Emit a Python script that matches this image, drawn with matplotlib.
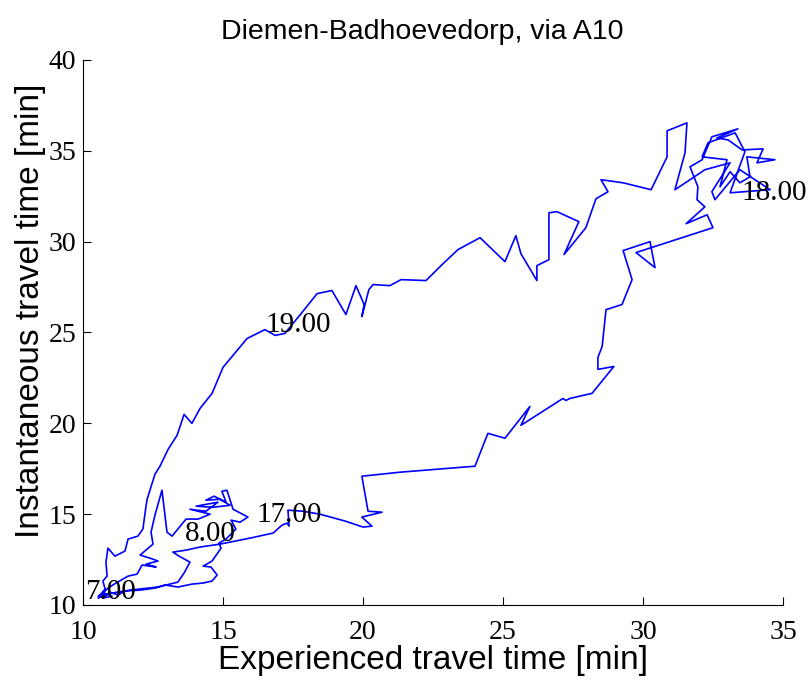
import matplotlib
matplotlib.use('Agg')
import matplotlib.pyplot as plt

# ervaren reistijd (x) en instantane reistijd (y), in minuten, 7.00 - 19.00
experienced = [10.61, 10.82, 10.54, 10.75, 11.04, 10.71, 10.96, 11.25, 11.50, 12.04,
               12.57, 12.93, 13.39, 13.89, 14.29, 14.61, 14.79, 14.57, 14.29, 14.61,
               14.93, 14.86, 15.11, 15.46, 15.29, 15.61, 15.89, 15.36, 15.14, 14.96,
               15.11, 14.68, 14.39, 14.89, 15.25, 14.64, 14.04, 14.82, 14.39, 13.82,
               14.54, 14.11, 13.68, 13.18, 13.00, 12.82, 12.57, 12.43, 12.50, 12.04,
               12.39, 12.68, 12.25, 12.61, 12.11, 11.93, 11.61, 11.18, 10.89, 10.68,
               10.54, 10.71, 10.89, 10.61, 11.04, 11.68, 12.68, 13.39, 13.61, 13.82,
               13.43, 13.21, 13.68, 14.18, 14.89, 15.96, 16.79, 17.11, 17.29, 17.36,
               17.32, 17.86, 18.46, 19.36, 20.00, 20.32, 19.96, 20.68, 20.18, 19.96,
               21.32, 24.00, 24.46, 25.07, 25.96, 25.64, 27.14, 27.25, 27.39, 28.18,
               28.96, 28.39, 28.39, 28.54, 28.68, 29.25, 29.61, 29.29, 30.25, 30.43,
               29.75, 32.50, 32.29, 31.54, 32.21, 31.93, 31.96, 31.68, 32.11, 32.46,
               33.39, 32.64, 33.04, 33.54, 34.29, 34.07, 34.71, 33.71, 33.82, 33.46,
               33.11, 32.75, 33.00, 32.11, 32.32, 33.29, 33.64, 33.11, 34.54, 33.46,
               32.57, 32.46, 33.11, 32.21, 31.68, 31.14, 31.50, 31.57, 30.86, 30.86,
               30.29, 29.29, 28.50, 28.75, 28.32, 27.96, 27.18, 27.71, 26.93, 26.64,
               26.64, 26.21, 26.21, 25.64, 25.46, 25.07, 24.18, 23.39, 22.86, 22.25,
               21.36, 20.96, 20.36, 20.21, 19.96, 20.04, 19.75, 19.39, 18.89, 18.36,
               17.82, 17.21, 16.86, 16.50, 15.86, 15.00, 14.61, 14.18, 13.89, 13.61,
               13.36, 13.04, 12.75, 12.57, 12.29, 12.25, 12.14, 11.96, 11.61, 11.50,
               11.14, 10.89, 10.82, 10.86, 10.71, 10.79, 10.61]
instantaneous = [10.44, 10.55, 10.38, 10.66, 10.49, 10.38, 10.71, 10.55, 10.77, 10.82,
                 10.93, 11.10, 10.99, 11.15, 11.21, 11.32, 11.65, 12.09, 12.14, 12.42,
                 13.13, 13.41, 13.63, 14.18, 14.67, 14.56, 14.84, 15.27, 16.32, 16.26,
                 15.66, 15.99, 15.77, 15.82, 15.49, 15.38, 15.44, 15.66, 15.16, 15.27,
                 15.00, 14.73, 14.73, 13.79, 14.01, 16.32, 14.95, 14.01, 13.35, 12.75,
                 12.58, 12.42, 12.25, 12.09, 12.20, 11.70, 11.59, 11.21, 10.93, 10.60,
                 10.49, 10.44, 10.60, 10.55, 10.66, 10.82, 10.99, 11.26, 11.76, 12.36,
                 12.69, 12.91, 13.02, 13.19, 13.35, 13.68, 13.96, 14.40, 14.51, 14.34,
                 15.22, 15.16, 15.00, 14.62, 14.29, 14.34, 14.84, 15.11, 15.16, 17.09,
                 17.31, 17.64, 19.45, 19.18, 20.93, 19.89, 21.37, 21.26, 21.37, 21.65,
                 23.13, 22.97, 23.63, 24.23, 26.26, 26.54, 27.91, 29.51, 30.00, 28.57,
                 29.40, 30.77, 31.48, 30.99, 31.92, 32.31, 33.02, 34.12, 34.51, 35.77,
                 36.21, 35.71, 35.60, 35.05, 35.11, 34.34, 34.51, 34.67, 33.57, 33.24,
                 33.85, 33.02, 34.51, 34.67, 35.44, 35.99, 34.95, 32.69, 32.86, 33.96,
                 32.31, 32.75, 34.34, 33.96, 33.41, 32.86, 34.89, 36.54, 36.10, 34.67,
                 32.86, 33.24, 33.41, 32.75, 32.36, 30.77, 29.29, 31.10, 31.65, 31.59,
                 29.01, 28.68, 27.86, 29.34, 30.33, 28.90, 30.22, 29.56, 28.79, 27.86,
                 27.91, 27.58, 27.64, 27.36, 25.88, 26.54, 27.58, 25.99, 27.31, 27.14,
                 26.10, 24.95, 24.84, 25.16, 24.67, 23.08, 21.65, 20.82, 20.00, 20.49,
                 19.34, 18.57, 17.64, 17.20, 15.82, 15.44, 14.18, 13.79, 13.63, 12.97,
                 12.69, 13.13, 12.36, 11.59, 11.32, 10.88, 10.55]

# tijdstippen langs de lus
time_labels = ['7.00', '8.00', '17.00', '18.00', '19.00']
time_x = [10.07, 13.64, 16.21, 33.50, 16.50]
time_y = [10.71, 13.90, 14.95, 32.69, 25.44]

serif = 'Liberation Serif'
sans = 'Liberation Sans'

fig = plt.figure(figsize=(8.09, 6.81), dpi=100)
ax = fig.add_axes([83/809, 1 - 605/681, 700/809, 545/681])

ax.plot(experienced, instantaneous, color='#0000ff', lw=1.2)

for t, x, y in zip(time_labels, time_x, time_y):
    ax.text(x, y, t, fontsize=21, family=serif, ha='left', va='center')

ax.set_xlim(10, 35)
ax.set_ylim(10, 40)
ax.set_xticks([10, 15, 20, 25, 30, 35])
ax.set_yticks([10, 15, 20, 25, 30, 35, 40])
ax.spines['top'].set_visible(False)
ax.spines['right'].set_visible(False)
for s in ['left', 'bottom']:
    ax.spines[s].set_linewidth(0.8)
ax.tick_params(direction='in', length=6, width=0.8, labelsize=20, pad=5)
ax.tick_params(axis='x', pad=11)
for lab in ax.get_xticklabels() + ax.get_yticklabels():
    lab.set_family(serif)

ax.set_title('Diemen-Badhoevedorp, via A10', fontsize=20.5, family=sans, pad=15, x=0.485)
ax.set_xlabel('Experienced travel time [min]', fontsize=24, family=sans, labelpad=0)
ax.set_ylabel('Instantaneous travel time [min]', fontsize=24, family=sans)
ax.yaxis.set_label_coords(-0.053, 0.54)

fig.savefig('out.png', dpi=100)
